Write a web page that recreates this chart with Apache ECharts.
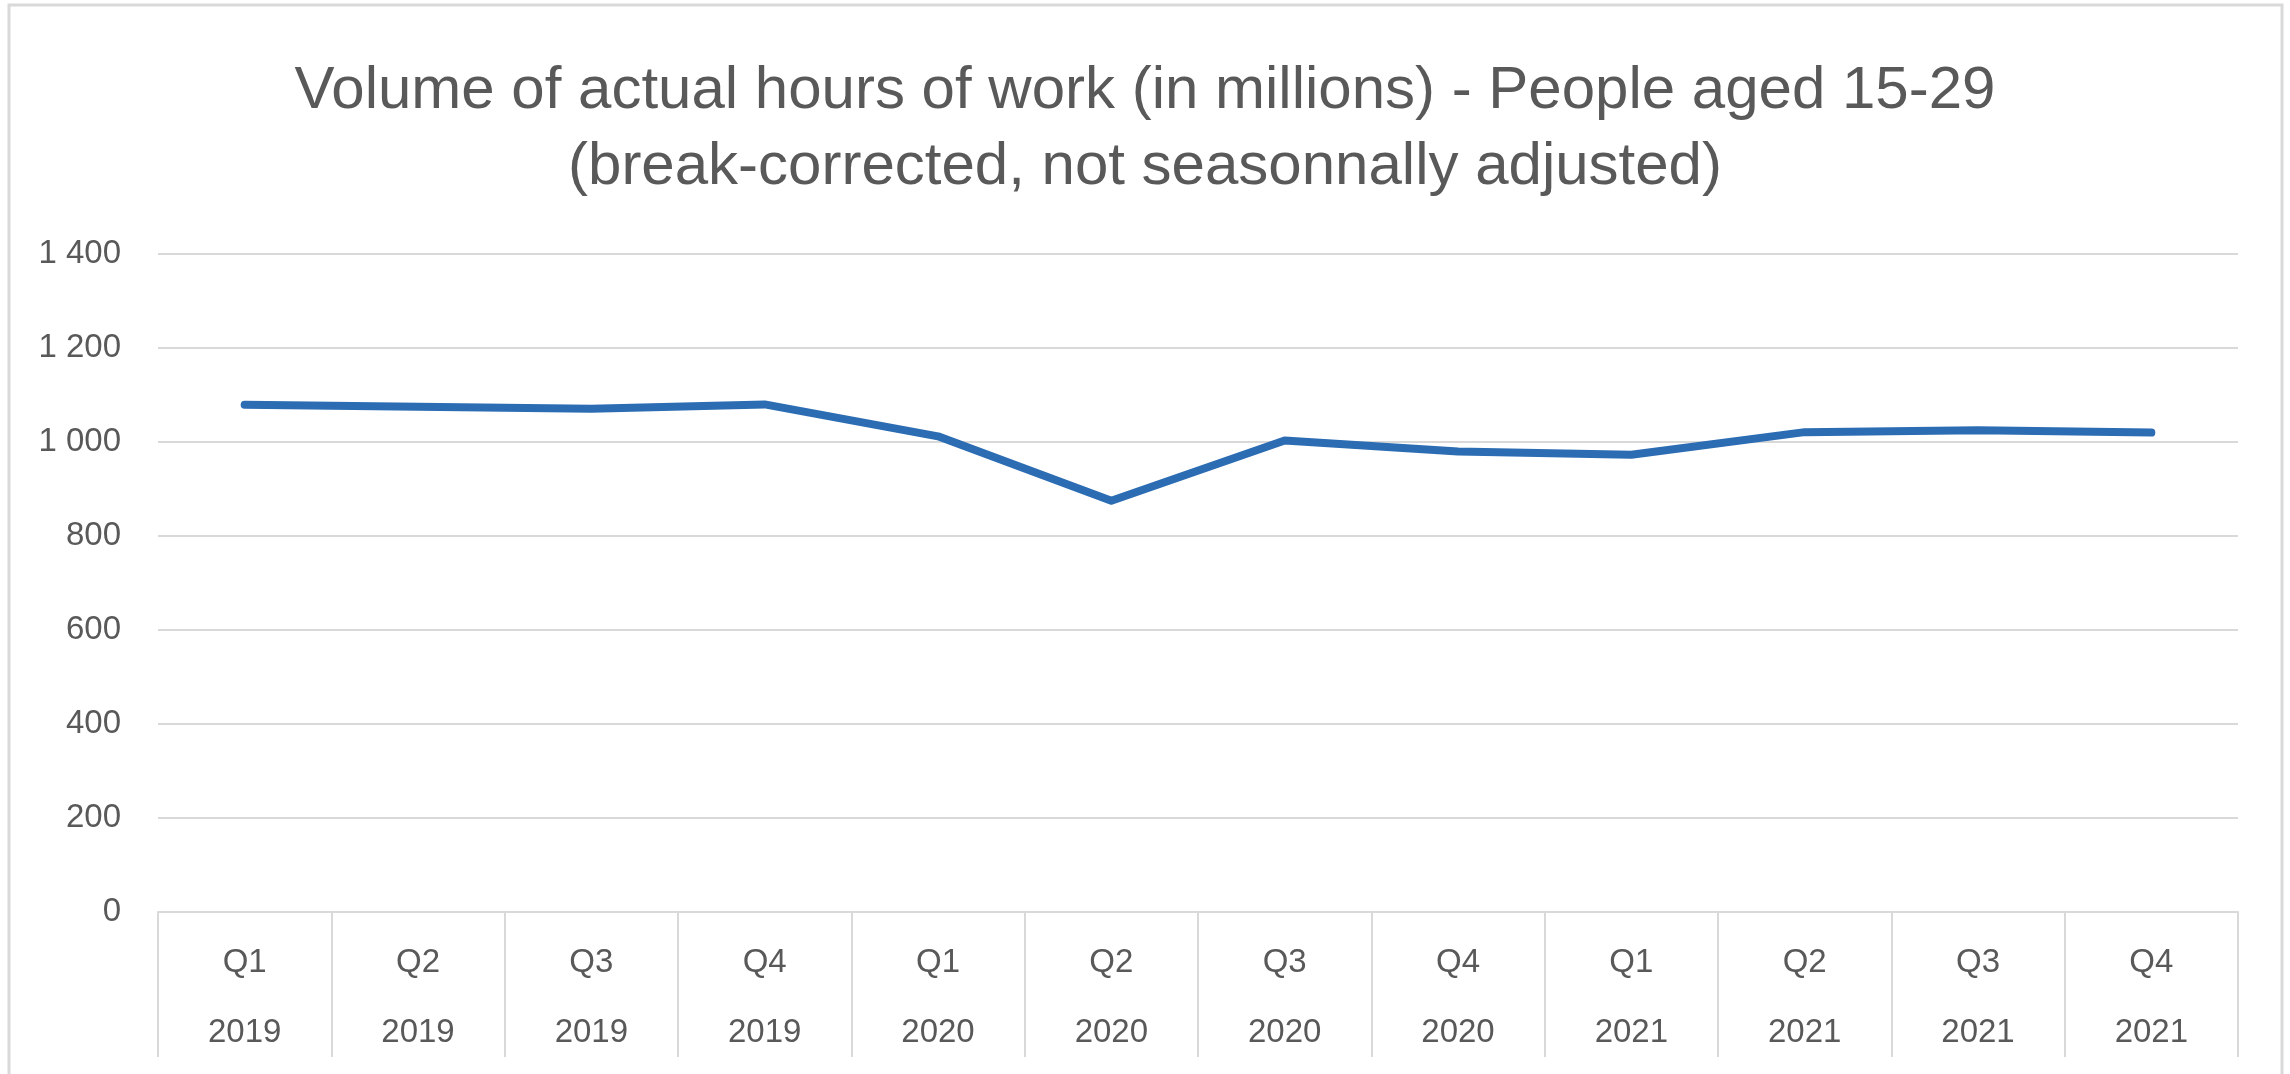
<!DOCTYPE html>
<html>
<head>
<meta charset="utf-8">
<script src="https://cdn.jsdelivr.net/npm/echarts@6/dist/echarts.min.js"></script>
<style>
  html, body { margin: 0; padding: 0; background: #fff; }
  #main { width: 2290px; height: 1074px; }
</style>
</head>
<body>
<div id="main"></div>
<script>
// quarters and years of the two-level category axis
var quarters = ['Q1', 'Q2', 'Q3', 'Q4', 'Q1', 'Q2', 'Q3', 'Q4', 'Q1', 'Q2', 'Q3', 'Q4'];
var years = ['2019', '2019', '2019', '2019', '2020', '2020', '2020', '2020', '2021', '2021', '2021', '2021'];
// volume of actual hours of work (millions)
var hours = [1079, 1075, 1071, 1080, 1012, 875, 1003, 980, 973, 1021, 1025, 1020];

var categories = quarters.map(function (q, i) { return q + '\n' + years[i]; });

var myChart = echarts.init(document.getElementById('main'));

var grey = '#595959';
var font = "'Liberation Sans', Arial, sans-serif";

var option = {
    backgroundColor: '#fff',
    animation: false,
    title: {
        text: 'Volume of actual hours of work (in millions) - People aged 15-29\n(break-corrected, not seasonnally adjusted)',
        left: 'center',
        top: 48,
        textStyle: {
            color: grey,
            fontFamily: font,
            fontWeight: 'normal',
            fontSize: 60,
            lineHeight: 76
        }
    },
    graphic: [{
        type: 'rect',
        shape: { x: 9, y: 5, width: 2273, height: 1100 },
        style: { fill: 'none', stroke: '#d9d9d9', lineWidth: 3 },
        silent: true
    }],
    grid: {
        left: 158,
        right: 52,
        top: 254,
        bottom: 162
    },
    xAxis: {
        type: 'category',
        data: categories,
        boundaryGap: true,
        axisLine: { lineStyle: { color: '#d9d9d9', width: 2 } },
        axisTick: {
            show: true,
            length: 145,
            lineStyle: { color: '#d9d9d9', width: 2 }
        },
        axisLabel: {
            color: grey,
            fontFamily: font,
            fontSize: 33,
            lineHeight: 70,
            margin: 16,
            interval: 0
        }
    },
    yAxis: {
        type: 'value',
        min: 0,
        max: 1400,
        interval: 200,
        axisLine: { show: false },
        axisTick: { show: false },
        splitLine: { lineStyle: { color: '#d9d9d9', width: 2 } },
        axisLabel: {
            color: grey,
            fontFamily: font,
            fontSize: 33,
            margin: 37,
            formatter: function (v) {
                return String(v).replace(/\B(?=(\d{3})+(?!\d))/g, ' ');
            }
        }
    },
    series: [{
        name: 'Hours',
        type: 'line',
        data: hours,
        symbol: 'none',
        lineStyle: { color: '#2B6CB3', width: 8, cap: 'round', join: 'round' }
    }]
};

myChart.setOption(option);
</script>
</body>
</html>
